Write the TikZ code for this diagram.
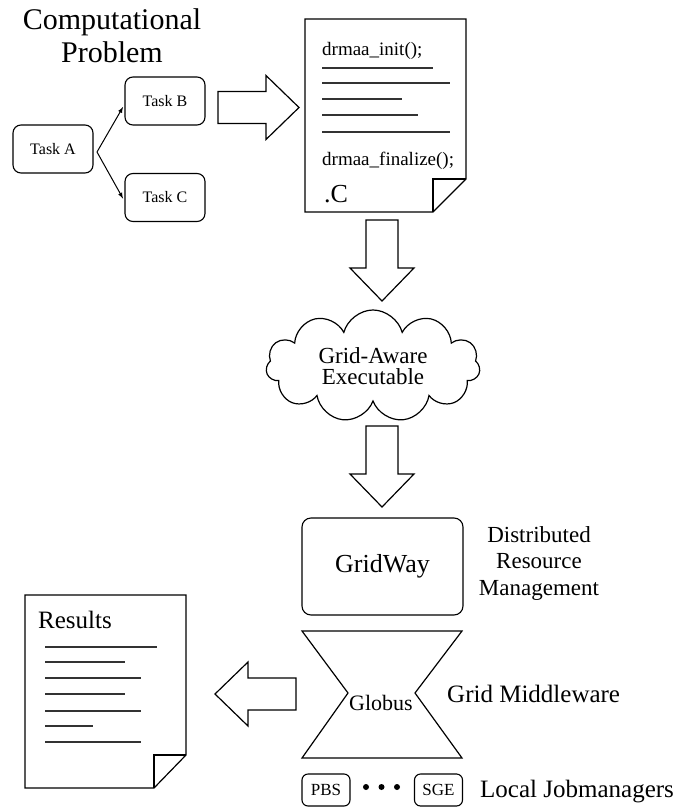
\documentclass[tikz,border=0pt]{standalone}
\usepackage{fontspec}
\setmainfont{Liberation Serif}
\usetikzlibrary{shapes.symbols}

\newcommand{\fs}[2]{\fontsize{#1}{#2}\selectfont}
\newcommand{\blockarrow}[2]{%
  \draw[line width=1.2pt, fill=white, shift={#1}, rotate=#2]
    (0,-16) -- (48,-16) -- (48,-32) -- (81,0) -- (48,32) -- (48,16) -- (0,16) -- cycle;}

\begin{document}
\begin{tikzpicture}[x=1pt, y=-1pt, line join=miter,
    task/.style={draw, rounded corners=8pt, line width=1.1pt, minimum width=80pt,
      minimum height=48pt, inner sep=0, outer sep=2, font=\fs{16}{18}},
    jobbox/.style={draw, rounded corners=6pt, line width=1.1pt, minimum width=48pt,
      minimum height=32pt, inner sep=0, font=\fs{17}{19}},
    code/.style={anchor=base west, inner sep=0, font=\fs{19}{21}},
    caption/.style={inner sep=0, font=\fs{25}{27}},
    textline/.style={line width=1.5pt, draw=black!80}]
  \useasboundingbox (0,0) rectangle (678,808);

  \node[caption, align=center, anchor=north, font=\fs{30}{33}] (problem) at (112,8.5) {Computational\\Problem};
  \node[task] (taska) at (53,149) {Task A};
  \node[task] (taskb) at (165,101) {Task B};
  \node[task] (taskc) at (165,197.5) {Task C};
  \draw[-latex, line width=1pt] ([xshift=2pt, yshift=-3pt]taska.east) -- ([yshift=-6pt]taskb.west);
  \draw[-latex, line width=1pt] ([xshift=2pt, yshift=-3pt]taska.east) -- ([yshift=-1pt]taskc.west);

  \blockarrow{(218,107.5)}{0}

  \draw[line width=1.2pt] (305,19) -- (466,19) -- (466,179) -- (433,212) -- (305,212) -- cycle;
  \draw[line width=1.2pt] (433,212) -- (433,179) -- (466,179);
  \node[code] (init) at (322,56) {drmaa\_init();};
  \draw[textline] (322,68) -- (433,68);
  \draw[textline] (322,83) -- (450,83);
  \draw[textline] (322,99) -- (402,99);
  \draw[textline] (322,115) -- (418,115);
  \draw[textline] (322,132) -- (450,132);
  \node[code] (finalize) at (322,165) {drmaa\_finalize();};
  \node[code, font=\fs{26}{28}] (ext) at (324,202) {.C};

  \blockarrow{(382,220)}{-90}

  \node[cloud, cloud puffs=11, cloud ignores aspect, draw, line width=1.2pt, minimum width=214pt,
    minimum height=112pt, align=center, inner sep=0, font=\fs{23}{21.5}] (exe) at (373,366) {Grid-Aware\\Executable};

  \blockarrow{(382,426)}{-90}

  \node[draw, rounded corners=9pt, line width=1.1pt, minimum width=161pt, minimum height=97pt,
    inner sep=0, font=\fs{26}{28}] (gridway) at (382.5,566.5) {GridWay};
  \node[caption, align=center, anchor=north, font=\fs{23}{26.5}] (drm) at (539,526) {Distributed\\Resource\\Management};

  \draw[line width=1.2pt] (302,631) -- (462,631) -- (415,693) -- (462,758) -- (302,758) -- (348,693) -- cycle;
  \node[anchor=base, inner sep=0, font=\fs{22}{24}] (globus) at (381,710) {Globus};
  \node[caption, anchor=base west] (middleware) at (447,702) {Grid Middleware};

  \blockarrow{(296,694)}{180}

  \draw[line width=1.2pt] (25,595) -- (186,595) -- (186,755) -- (154,788) -- (25,788) -- cycle;
  \draw[line width=1.2pt] (154,788) -- (154,755) -- (186,755);
  \node[caption, anchor=base west] (results) at (38,628) {Results};
  \draw[textline] (45,647) -- (157,647);
  \draw[textline] (45,662) -- (125,662);
  \draw[textline] (45,678) -- (141,678);
  \draw[textline] (45,694) -- (125,694);
  \draw[textline] (45,711) -- (141,711);
  \draw[textline] (45,726) -- (93,726);
  \draw[textline] (45,742) -- (141,742);

  \node[jobbox] (pbs) at (326,790) {PBS};
  \node[jobbox] (sge) at (438.5,790) {SGE};
  \foreach \x in {366,381.5,397}
    \fill (\x,787) circle (3pt);
  \node[caption, anchor=base west] (jobmanagers) at (480,797) {Local Jobmanagers};
\end{tikzpicture}
\end{document}
